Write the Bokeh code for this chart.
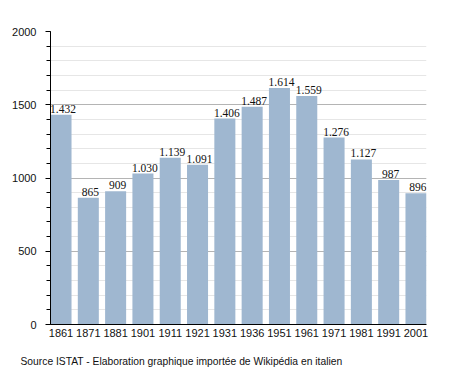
from bokeh.plotting import figure
from bokeh.models import FactorRange, ColumnDataSource, Title, FixedTicker
from bokeh.embed import file_html
from bokeh.resources import INLINE

years = ["1861", "1871", "1881", "1901", "1911", "1921", "1931", "1936", "1951", "1961", "1971", "1981", "1991", "2001"]
population = [1432, 865, 909, 1030, 1139, 1091, 1406, 1487, 1614, 1559, 1276, 1127, 987, 896]
labels = [f"{v:,}".replace(",", ".") for v in population]
y_ticks = [0, 500, 1000, 1500, 2000]
source_text = "Source ISTAT - Elaboration graphique importée de Wikipédia en italien"

FONT = "Liberation Sans"
BAR_W = 0.77

src = ColumnDataSource(dict(x=years, y=population, lab=labels))

xr = FactorRange(factors=years, range_padding=BAR_W / 2 - 0.5, range_padding_units="absolute")
p = figure(x_range=xr, y_range=(0, 2000), width=455, height=373,
           output_backend="svg", toolbar_location=None,
           min_border_left=50, min_border_right=29, min_border_top=31, min_border_bottom=49)
p.outline_line_color = None
p.background_fill_color = "white"

p.vbar(x="x", top="y", width=BAR_W, source=src, fill_color="#9fb7d0", line_color=None)
p.text(x="x", y="y", text="lab", source=src, text_align="center", text_baseline="bottom",
       x_offset=2, y_offset=-2, text_font_size="11.5px", text_font=FONT, text_color="#111111")

p.xgrid.grid_line_color = None
p.ygrid.grid_line_color = "#b4b4b4"
p.ygrid.minor_grid_line_color = "#e6e6e6"
p.yaxis.ticker = FixedTicker(ticks=y_ticks, minor_ticks=list(range(0, 2001, 100)))
p.yaxis.major_tick_out = 5
p.yaxis.major_tick_in = 0
p.yaxis.minor_tick_out = 4
p.yaxis.minor_tick_in = 0
p.yaxis.axis_line_color = "black"
p.yaxis.major_tick_line_color = "black"
p.yaxis.minor_tick_line_color = "black"
p.yaxis.major_label_text_font = FONT
p.yaxis.major_label_text_font_size = "11px"
p.yaxis.major_label_text_color = "#111111"
p.yaxis.major_label_standoff = 9

p.xaxis.axis_line_color = "black"
p.xaxis.major_tick_line_color = None
p.xaxis.minor_tick_line_color = None
p.xaxis.major_label_text_font = FONT
p.xaxis.major_label_text_font_size = "11px"
p.xaxis.major_label_text_color = "#111111"
p.xaxis.major_label_standoff = -2

spacer = Title(text=" ", standoff=0, text_font_size="11px")
p.add_layout(spacer, "below")
footer = Title(text=source_text, align="left", offset=-30, standoff=0,
               text_font=FONT, text_font_size="10.3px", text_font_style="normal",
               text_color="#111111")
p.add_layout(footer, "below")

open("out.html", "w").write(file_html(p, INLINE))
